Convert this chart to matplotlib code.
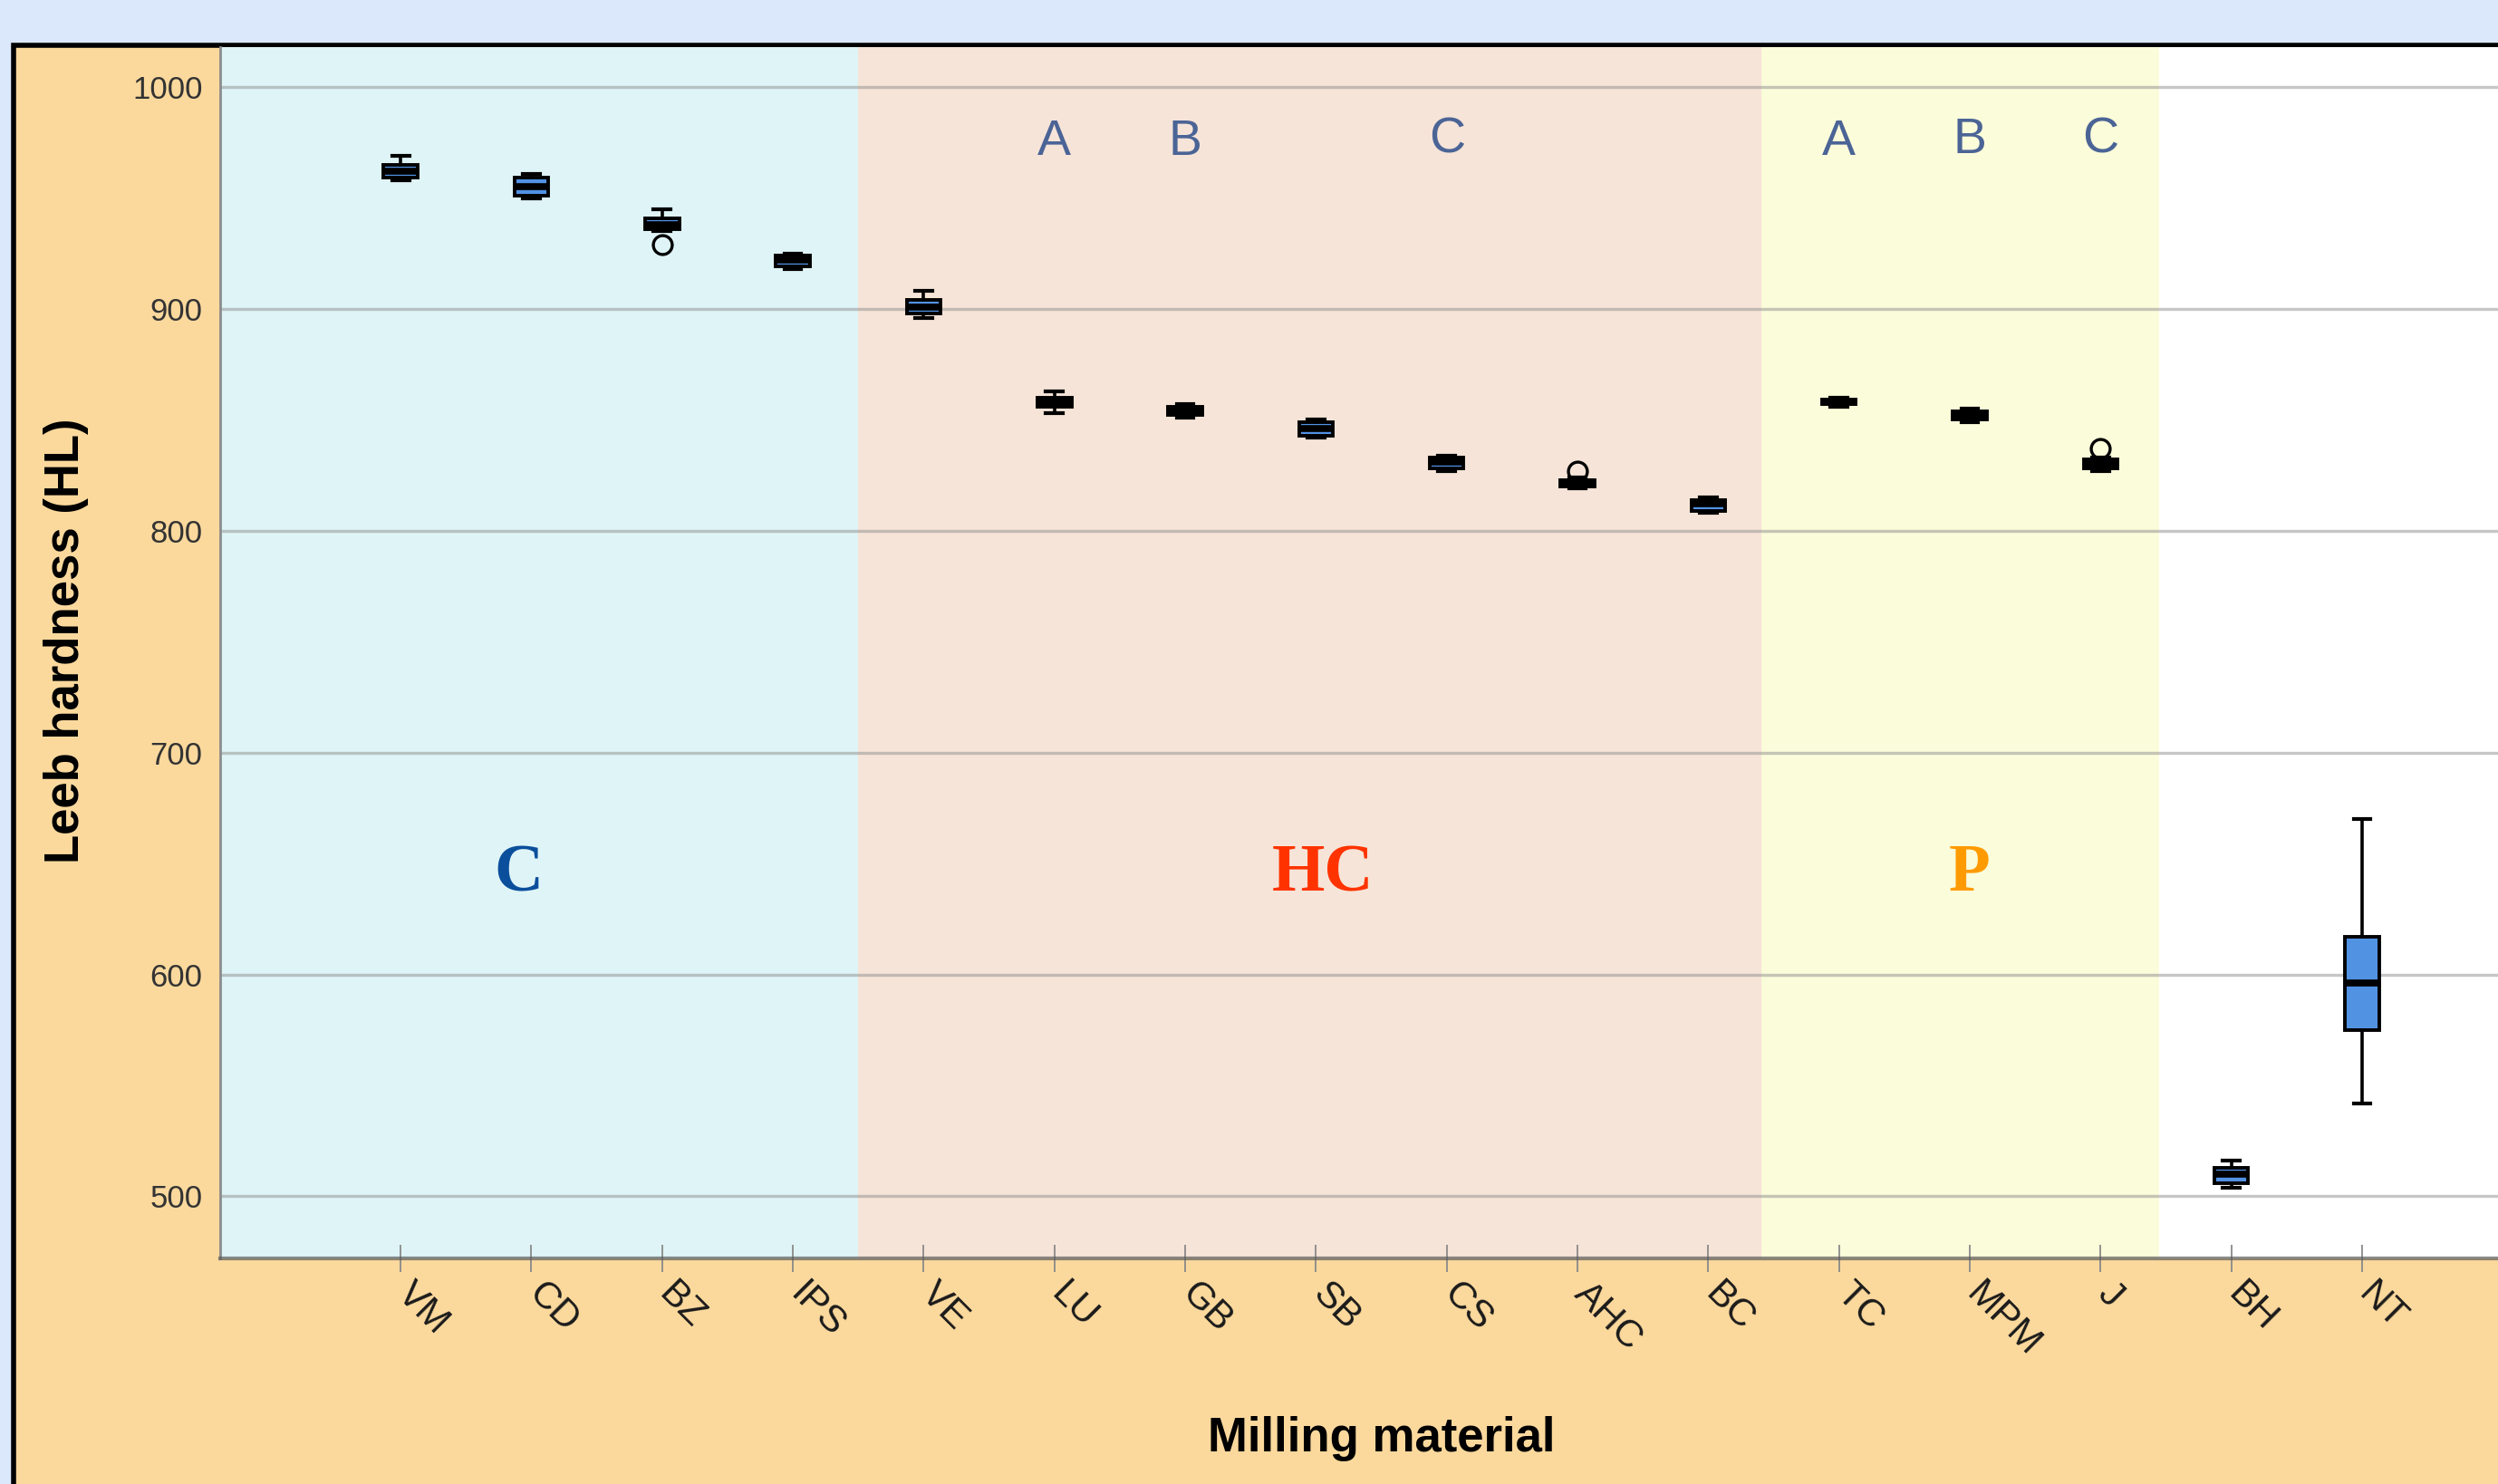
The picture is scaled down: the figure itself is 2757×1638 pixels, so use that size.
import matplotlib
matplotlib.use("Agg")
import matplotlib.pyplot as plt
import matplotlib.transforms as mtransforms
from matplotlib.patches import Rectangle

# materials in plotting order
materials = ["VM", "CD", "BZ", "IPS", "VE", "LU", "GB", "SB", "CS", "AHC", "BC",
             "TC", "MPM", "J", "BH", "NT"]
whisker_low = [958, 950, 935, 918, 896, 853, 851, 842, 827, 819, 808, 856, 849, 827, 504, 542]
q1 = [959, 951, 936, 919, 898, 856, 852, 843, 828, 820, 809, 857, 850, 828, 506, 575]
median = [962, 955, 938, 922, 901, 858, 854, 846, 831, 822, 812, 858, 852, 830, 510, 596]
q3 = [965, 959, 941, 924, 904, 860, 856, 849, 833, 823, 814, 859, 854, 832, 513, 617]
whisker_high = [969, 961, 945, 925, 908, 863, 857, 850, 834, 824, 815, 860, 855, 833, 516, 670]
outliers = {"BZ": [929], "AHC": [827], "J": [837]}

# material groups (first / last member) and their labels
group_names = ["C", "HC", "P"]
group_first = ["VM", "VE", "TC"]
group_last = ["IPS", "BC", "J"]
group_label_at = [0.9, 7.05, 12.0]
group_label_y = 645
group_colors = ["#0b4f9c", "#ff3300", "#ff9a00"]
band_colors = ["#dff4f7", "#f6e4d8", "#fbfcda"]
band_pad = [(3.0, 0.5), (0.5, 0.41), (0.59, 0.45)]  # how far each band reaches past its boxes

# letters written above single materials
letter_text = ["A", "B", "C", "A", "B", "C"]
letter_over = ["LU", "GB", "CS", "TC", "MPM", "J"]
letter_y = [975, 975, 976, 975, 976, 976]

yticks = [500, 600, 700, 800, 900, 1000]

W, H = 2757, 1638
fig = plt.figure(figsize=(W / 100, H / 100), dpi=100)
fig.patch.set_facecolor("#dbe7fb")
fig.patches.append(Rectangle((15 / W, -0.1), 1.2, 1.1 - 50 / H, transform=fig.transFigure,
                             facecolor="#fbd99d", edgecolor="black", linewidth=4, zorder=-10))

ax = fig.add_axes([243 / W, 1 - 1389 / H, 1 - 243 / W, (1389 - 52) / H])
ax.set_facecolor("white")

pos = {m: i for i, m in enumerate(materials)}
for first, last, col, (pl, pr) in zip(group_first, group_last, band_colors, band_pad):
    ax.axvspan(pos[first] - pl, pos[last] + pr, color=col, lw=0, zorder=1)

stats = []
for i, m in enumerate(materials):
    stats.append(dict(label=m, whislo=whisker_low[i], q1=q1[i], med=median[i], q3=q3[i],
                      whishi=whisker_high[i], fliers=outliers.get(m, [])))

ax.bxp(stats, positions=range(len(materials)), widths=0.26, capwidths=0.13, patch_artist=True,
       boxprops=dict(facecolor="#5192e3", edgecolor="black", linewidth=2.8),
       medianprops=dict(color="black", linewidth=5.5),
       whiskerprops=dict(color="black", linewidth=2.6),
       capprops=dict(color="black", linewidth=3.0),
       flierprops=dict(marker="o", markerfacecolor="none", markeredgecolor="black",
                       markersize=15, markeredgewidth=2.4))

ax.set_xlim(-1.38, len(materials) - 1 + 1.04)
ax.set_ylim(472, 1018)

ax.set_axisbelow("line")
ax.yaxis.grid(True, color="#8f8f8f", alpha=0.5, linewidth=2.4)
ax.set_yticks(yticks)
ax.tick_params(axis="y", length=0, pad=14, labelsize=25, labelcolor="#333333")
ax.set_xticks(range(len(materials)))
ax.set_xticklabels(materials, rotation=-45, ha="left", va="top", rotation_mode="anchor",
                   fontsize=30, color="#1a1a1a")
ax.tick_params(axis="x", direction="inout", length=22, width=1.3, color="#8a8a8a", pad=3)
shift = mtransforms.ScaledTranslation(0.17, 0, fig.dpi_scale_trans)
for lab in ax.get_xticklabels():
    lab.set_transform(lab.get_transform() + shift)
for lab in ax.get_xticklabels() + ax.get_yticklabels():
    lab.set_family(["Liberation Sans", "DejaVu Sans"])

for s in ["top", "right"]:
    ax.spines[s].set_visible(False)
ax.spines["left"].set_color("#8c8c8c")
ax.spines["left"].set_linewidth(2)
ax.spines["bottom"].set_color("#5a5a5a")
ax.spines["bottom"].set_alpha(0.7)
ax.spines["bottom"].set_linewidth(3)

for name, x, col in zip(group_names, group_label_at, group_colors):
    ax.text(x, group_label_y, name, color=col, fontsize=54, fontweight="bold",
            family=["Liberation Serif", "DejaVu Serif"], ha="center", va="center", zorder=3)

for t, m, y in zip(letter_text, letter_over, letter_y):
    ax.text(pos[m], y, t, color="#4b6496", fontsize=40, family=["Liberation Sans", "DejaVu Sans"],
            ha="center", va="center", zorder=3)

fig.text(73 / W, 1 - 707 / H, "Leeb hardness (HL)", rotation=90, ha="center", va="center",
         fontsize=38, fontweight="bold", family=["Liberation Sans", "DejaVu Sans"])
fig.text(1525 / W, 1 - 1588 / H, "Milling material", ha="center", va="center",
         fontsize=38, fontweight="bold", family=["Liberation Sans", "DejaVu Sans"])

fig.savefig("out.png", dpi=100, facecolor=fig.get_facecolor())
